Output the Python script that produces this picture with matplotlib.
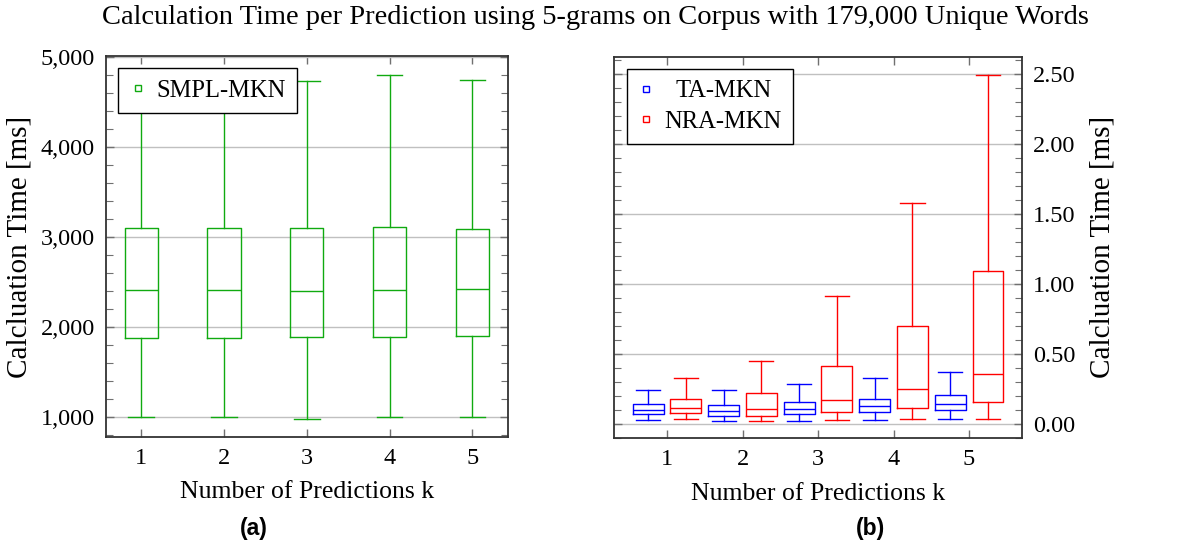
"""Box plots of calculation time per prediction (5-grams, 179k word corpus)"""
import matplotlib
matplotlib.use('Agg')
import matplotlib.pyplot as plt
from matplotlib.lines import Line2D
from matplotlib.ticker import FuncFormatter, MultipleLocator

# number of predictions k
k_values = [1, 2, 3, 4, 5]

# SMPL-MKN (ms)
smpl_whislo = [1000, 1000, 975, 1007, 1007]
smpl_q1 = [1885, 1885, 1889, 1893, 1900]
smpl_med = [2411, 2411, 2400, 2411, 2422]
smpl_q3 = [3107, 3107, 3100, 3119, 3096]
smpl_whishi = [4750, 4760, 4733, 4807, 4752]

# TA-MKN (ms)
ta_whislo = [0.024, 0.019, 0.021, 0.026, 0.029]
ta_q1 = [0.067, 0.057, 0.071, 0.083, 0.095]
ta_med = [0.100, 0.093, 0.105, 0.126, 0.143]
ta_q3 = [0.140, 0.133, 0.157, 0.179, 0.207]
ta_whishi = [0.243, 0.240, 0.286, 0.324, 0.369]

# NRA-MKN (ms)
nra_whislo = [0.029, 0.021, 0.026, 0.029, 0.031]
nra_q1 = [0.076, 0.057, 0.083, 0.114, 0.157]
nra_med = [0.114, 0.105, 0.167, 0.250, 0.355]
nra_q3 = [0.176, 0.217, 0.414, 0.700, 1.093]
nra_whishi = [0.329, 0.450, 0.912, 1.581, 2.495]

GREEN = '#10aa10'
BLUE = '#0000ff'
RED = '#ff0000'
FONT = 'Liberation Serif'
FS = 17.5

plt.rcParams['font.family'] = FONT
plt.rcParams['font.size'] = FS


def make_stats(lo, q1, med, q3, hi):
    return [dict(whislo=a, q1=b, med=c, q3=d, whishi=e, fliers=[])
            for a, b, c, d, e in zip(lo, q1, med, q3, hi)]


def draw_boxes(ax, stats, positions, color, width, capwidth):
    props = dict(color=color, linewidth=1.0)
    ax.bxp(stats, positions=positions, widths=width, capwidths=capwidth,
           showfliers=False, manage_ticks=False,
           boxprops=props, medianprops=props, whiskerprops=props, capprops=props)


def style_axes(ax):
    ax.tick_params(which='both', direction='in', top=True, bottom=True,
                   left=True, right=True, color='#707070', labelsize=FS)
    ax.tick_params(which='major', length=6, width=1.0, pad=8)
    ax.tick_params(which='minor', length=5, width=0.8)
    ax.tick_params(axis='x', which='minor', top=False, bottom=False)
    ax.grid(axis='y', which='major', color='#c0c0c0', linewidth=1.0)
    ax.set_axisbelow(True)
    for sp in ax.spines.values():
        sp.set_color('#333333')
        sp.set_linewidth(1.3)
    ax.set_xticks(k_values)
    ax.set_xlabel('Number of Predictions k', fontsize=18.5, labelpad=9)


def legend_handle(color, label):
    return Line2D([], [], linestyle='none', marker='s', markersize=5,
                  markerfacecolor='none', markeredgecolor=color,
                  markeredgewidth=1.0, label=label)


def add_legend(ax, handles):
    leg = ax.legend(handles=handles, loc='upper left', bbox_to_anchor=(0.031, 0.968),
                    borderaxespad=0, fancybox=False, edgecolor='black', framealpha=1,
                    fontsize=17.7, handlelength=0.7, handletextpad=0.4,
                    borderpad=0.45, labelspacing=0.35)
    leg.get_frame().set_linewidth(1.0)
    return leg


fig = plt.figure(figsize=(11.91, 5.4), dpi=100)
ax1 = fig.add_axes([0.089, 0.191, 0.3375, 0.705])
ax2 = fig.add_axes([0.5155, 0.189, 0.3426, 0.706])

# (a) SMPL-MKN
draw_boxes(ax1, make_stats(smpl_whislo, smpl_q1, smpl_med, smpl_q3, smpl_whishi),
           k_values, GREEN, 0.4, 0.31)
style_axes(ax1)
ax1.set_xlim(0.574, 5.43)
ax1.set_ylim(781, 5014)
ax1.yaxis.set_major_locator(MultipleLocator(1000))
ax1.yaxis.set_minor_locator(MultipleLocator(200))
ax1.yaxis.set_major_formatter(FuncFormatter(lambda v, p: f'{v:,.0f}'))
ax1.set_ylabel('Calcluation Time [ms]', fontsize=21, labelpad=6)
add_legend(ax1, [legend_handle(GREEN, 'SMPL-MKN')])

# (b) TA-MKN vs NRA-MKN
ta_pos = [k - 0.25 for k in k_values]
nra_pos = [k + 0.25 for k in k_values]
draw_boxes(ax2, make_stats(ta_whislo, ta_q1, ta_med, ta_q3, ta_whishi),
           ta_pos, BLUE, 0.41, 0.32)
draw_boxes(ax2, make_stats(nra_whislo, nra_q1, nra_med, nra_q3, nra_whishi),
           nra_pos, RED, 0.41, 0.32)
style_axes(ax2)
ax2.set_xlim(0.298, 5.70)
ax2.set_ylim(-0.103, 2.624)
ax2.yaxis.set_major_locator(MultipleLocator(0.5))
ax2.yaxis.set_minor_locator(MultipleLocator(0.1))
ax2.yaxis.set_major_formatter(FuncFormatter(lambda v, p: f'{v:.2f}'))
ax2.tick_params(axis='y', labelleft=False, labelright=True)
ax2.yaxis.set_label_position('right')
ax2.set_ylabel('Calcluation Time [ms]', fontsize=21, labelpad=10)
leg2 = add_legend(ax2, [legend_handle(BLUE, 'TA-MKN'), legend_handle(RED, 'NRA-MKN')])

fig.text(0.5, 0.967, 'Calculation Time per Prediction using 5-grams on Corpus with 179,000 Unique Words',
         ha='center', va='center', fontsize=20.5)
fig.text(254 / 1191, 1 - 528 / 540, '(a)', ha='center', va='center',
         fontsize=16.5, fontweight='bold', family='Liberation Sans')
fig.text(871 / 1191, 1 - 528 / 540, '(b)', ha='center', va='center',
         fontsize=16.5, fontweight='bold', family='Liberation Sans')

# centre the legend entries like the original
fig.canvas.draw()
texts = leg2.get_texts()
widths = [t.get_window_extent().width for t in texts]
for t, w in zip(texts, widths):
    t.set_x((max(widths) - w) / 2)

fig.savefig('out.png', dpi=100)
